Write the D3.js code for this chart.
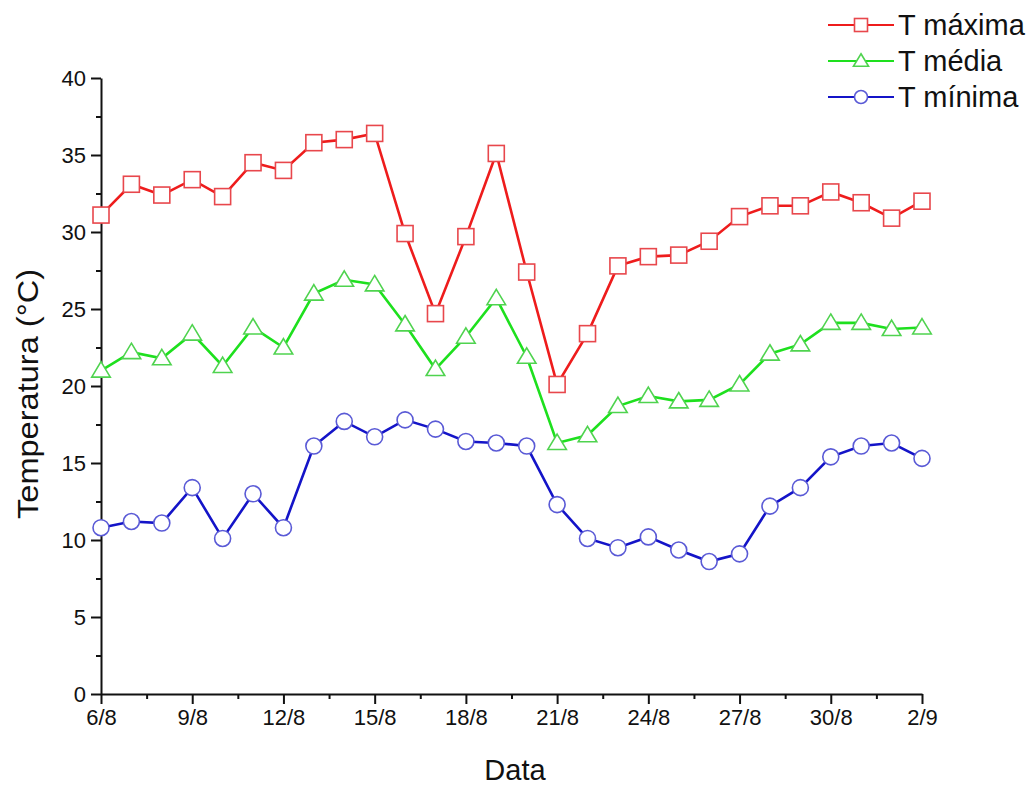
<!DOCTYPE html>
<html>
<head>
<meta charset="utf-8">
<script src="https://cdn.jsdelivr.net/npm/d3@7"></script>
<style>
  html, body { margin: 0; padding: 0; background: #fff; }
  svg { display: block; }
  text { font-family: "Liberation Sans", Arial, sans-serif; fill: #111; }
</style>
</head>
<body>
<svg id="chart" width="1036" height="785"></svg>
<script>
// ---- data ----
const dates = ["6/8","7/8","8/8","9/8","10/8","11/8","12/8","13/8","14/8","15/8","16/8","17/8","18/8","19/8","20/8",
               "21/8","22/8","23/8","24/8","25/8","26/8","27/8","28/8","29/8","30/8","31/8","1/9","2/9"];
const tMax = [31.1,33.1,32.4,33.4,32.3,34.5,34.0,35.8,36.0,36.4,29.9,24.7,29.7,35.1,27.4,
              20.1,23.4,27.8,28.4,28.5,29.4,31.0,31.7,31.7,32.6,31.9,30.9,32.0];
const tMed = [21.0,22.2,21.8,23.4,21.3,23.8,22.5,26.0,26.9,26.6,24.0,21.1,23.2,25.7,21.9,
              16.3,16.8,18.7,19.35,19.0,19.1,20.1,22.1,22.7,24.1,24.1,23.7,23.8];
const tMin = [10.8,11.2,11.1,13.4,10.1,13.0,10.8,16.1,17.7,16.7,17.8,17.2,16.4,16.3,16.1,
              12.3,10.1,9.5,10.2,9.35,8.6,9.1,12.2,13.4,15.4,16.1,16.3,15.3];
const seriesNames = ["T máxima","T média","T mínima"];
const yTicks = [0,5,10,15,20,25,30,35,40];
const xLabelEvery = 3;

// ---- layout ----
const svg = d3.select("#chart");
const x = d3.scaleLinear().domain([0, dates.length - 1]).range([101, 922]);
const y = d3.scaleLinear().domain([0, 40]).range([694, 78]);

const series = [
  {name: seriesNames[0], values: tMax, line: "#ee1c1c", mark: "#e8474c", shape: "square"},
  {name: seriesNames[1], values: tMed, line: "#1ee01e", mark: "#4fd34f", shape: "triangle"},
  {name: seriesNames[2], values: tMin, line: "#1414c8", mark: "#5a5ad6", shape: "circle"}
];

// ---- axes ----
const majorX = d3.range(0, dates.length, xLabelEvery);
const minorX = d3.range(xLabelEvery / 2, dates.length - 1, xLabelEvery);
const minorY = yTicks.slice(0, -1).map(v => v + 2.5);

function styleAxis(g) {
  g.select(".domain").attr("stroke", "#111").attr("stroke-width", 2);
  g.selectAll(".tick line").attr("stroke", "#111").attr("stroke-width", 2);
  g.selectAll(".tick text").style("font-size", "22px").attr("fill", "#111");
}

svg.append("g").attr("transform", "translate(0,694)")
  .call(d3.axisBottom(x).tickValues(minorX).tickSize(5).tickFormat(""))
  .call(styleAxis).select(".domain").remove();
svg.append("g").attr("transform", "translate(0,694)")
  .call(d3.axisBottom(x).tickValues(majorX).tickSize(10).tickSizeOuter(0).tickPadding(5)
        .tickFormat(i => dates[i]))
  .call(styleAxis);

svg.append("g").attr("transform", "translate(101,0)")
  .call(d3.axisLeft(y).tickValues(minorY).tickSize(5).tickFormat(""))
  .call(styleAxis).select(".domain").remove();
svg.append("g").attr("transform", "translate(101,0)")
  .call(d3.axisLeft(y).tickValues(yTicks).tickSize(10).tickSizeOuter(0).tickPadding(5))
  .call(styleAxis);

// axis titles
svg.append("text").attr("x", 515).attr("y", 780).attr("text-anchor", "middle")
  .style("font-size", "29px").text("Data");
svg.append("text").attr("transform", "translate(38,394) rotate(-90)").attr("text-anchor", "middle")
  .attr("textLength", 250).attr("lengthAdjust", "spacingAndGlyphs")
  .style("font-size", "29px").text("Temperatura (°C)");

// ---- markers ----
function drawMarker(sel, shape, size, color) {
  if (shape === "square") {
    sel.append("rect").attr("x", -size/2).attr("y", -size/2).attr("width", size).attr("height", size)
      .attr("fill", "#fff").attr("stroke", color).attr("stroke-width", 1.6);
  } else if (shape === "triangle") {
    const h = size * 0.9;
    sel.append("path")
      .attr("d", `M0,${-h*0.62}L${size*0.58},${h*0.45}L${-size*0.58},${h*0.45}Z`)
      .attr("fill", "#fff").attr("stroke", color).attr("stroke-width", 1.6);
  } else {
    sel.append("circle").attr("r", size/2).attr("fill", "#fff").attr("stroke", color).attr("stroke-width", 1.6);
  }
}

const line = d3.line().x((d, i) => x(i)).y(d => y(d));

series.forEach(s => {
  svg.append("path").datum(s.values).attr("d", line)
    .attr("fill", "none").attr("stroke", s.line).attr("stroke-width", 2.6);
  svg.append("g").selectAll("g").data(s.values).join("g")
    .attr("transform", (d, i) => `translate(${x(i)},${y(d)})`)
    .each(function() { drawMarker(d3.select(this), s.shape, 16, s.mark); });
});

// ---- legend ----
const legend = svg.append("g").attr("transform", "translate(828,25)");
series.forEach((s, k) => {
  const row = legend.append("g").attr("transform", `translate(0,${k * 36})`);
  row.append("line").attr("x1", 0).attr("x2", 66).attr("y1", 0).attr("y2", 0)
    .attr("stroke", s.line).attr("stroke-width", 2.2);
  const m = row.append("g").attr("transform", "translate(33,0)");
  drawMarker(m, s.shape, 13, s.mark);
  row.append("text").attr("x", 70).attr("y", 10).style("font-size", "29px").text(s.name);
});
</script>
</body>
</html>
